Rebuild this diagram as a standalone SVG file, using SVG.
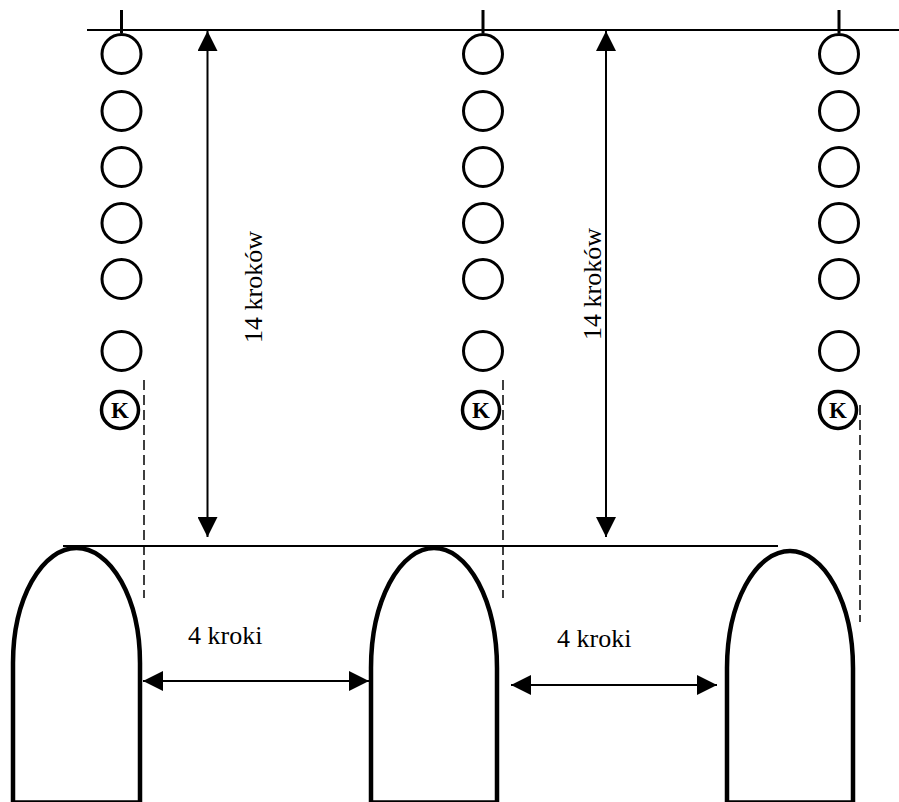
<svg xmlns="http://www.w3.org/2000/svg" width="899" height="802" viewBox="0 0 899 802">
<style>
.ln{stroke:#000;stroke-width:2;fill:none}
.tick{stroke:#000;stroke-width:3}
.c{fill:none;stroke:#000;stroke-width:3}
.k{fill:none;stroke:#000;stroke-width:3.5}
.kt{font-family:'Liberation Serif',serif;font-weight:bold;font-size:23px;text-anchor:middle}
.dash{stroke:#000;stroke-width:1.5;stroke-dasharray:10 5}
.arch{fill:none;stroke:#000;stroke-width:4.5}
.lbl{font-family:'Liberation Serif',serif;font-size:26px}
</style>
<defs>
<marker id="ah" viewBox="0 0 20 20" refX="20" refY="10" markerWidth="20" markerHeight="20" markerUnits="userSpaceOnUse" orient="auto-start-reverse">
<path d="M0,0 L20,10 L0,20 Z" fill="#000"/>
</marker>
</defs>
<g id="baselines">
<line class="ln" x1="87" y1="30" x2="899" y2="30"/>
<line class="ln" x1="63" y1="546" x2="778" y2="546"/>
</g>
<g id="column1">
<line class="tick" x1="121.5" y1="10" x2="121.5" y2="33"/>
<circle class="c" cx="121.5" cy="54" r="19.5"/>
<circle class="c" cx="121.5" cy="111" r="19.5"/>
<circle class="c" cx="121.5" cy="167" r="19.5"/>
<circle class="c" cx="121.5" cy="223" r="19.5"/>
<circle class="c" cx="121.5" cy="279" r="19.5"/>
<circle class="c" cx="121.5" cy="351" r="19.5"/>
<circle class="k" cx="120" cy="410" r="18.5"/>
<text class="kt" x="120" y="418">K</text>
</g>
<g id="column2">
<line class="tick" x1="483" y1="10" x2="483" y2="33"/>
<circle class="c" cx="483" cy="54" r="19.5"/>
<circle class="c" cx="483" cy="111" r="19.5"/>
<circle class="c" cx="483" cy="167" r="19.5"/>
<circle class="c" cx="483" cy="223" r="19.5"/>
<circle class="c" cx="483" cy="279" r="19.5"/>
<circle class="c" cx="483" cy="351" r="19.5"/>
<circle class="k" cx="481" cy="410" r="18.5"/>
<text class="kt" x="481" y="418">K</text>
</g>
<g id="column3">
<line class="tick" x1="839" y1="10" x2="839" y2="33"/>
<circle class="c" cx="839" cy="54" r="19.5"/>
<circle class="c" cx="839" cy="111" r="19.5"/>
<circle class="c" cx="839" cy="167" r="19.5"/>
<circle class="c" cx="839" cy="223" r="19.5"/>
<circle class="c" cx="839" cy="279" r="19.5"/>
<circle class="c" cx="839" cy="351" r="19.5"/>
<circle class="k" cx="838" cy="410" r="18.5"/>
<text class="kt" x="838" y="418">K</text>
</g>
<g id="arch1"><path class="arch" d="M13,802.5 L13,663 A63.5,115 0 0 1 140,663 L140,802.5 Z"/></g>
<g id="arch2"><path class="arch" d="M371,802.5 L371,668 A63,120 0 0 1 497,668 L497,802.5 Z"/></g>
<g id="arch3"><path class="arch" d="M727,802.5 L727,668 A63,117 0 0 1 853,668 L853,802.5 Z"/></g>
<g id="connectors">
<line class="dash" x1="144" y1="380" x2="144" y2="598"/>
<line class="dash" x1="503" y1="380" x2="503" y2="598"/>
<line class="dash" x1="860" y1="405" x2="860" y2="622"/>
<line class="ln" x1="207.5" y1="31" x2="207.5" y2="537" marker-start="url(#ah)" marker-end="url(#ah)"/>
<line class="ln" x1="606" y1="31" x2="606" y2="537" marker-start="url(#ah)" marker-end="url(#ah)"/>
<line class="ln" x1="143" y1="681" x2="369" y2="681" marker-start="url(#ah)" marker-end="url(#ah)"/>
<line class="ln" x1="511" y1="685" x2="717" y2="685" marker-start="url(#ah)" marker-end="url(#ah)"/>
</g>
<g id="labels">
<text class="lbl" transform="translate(262,287) rotate(-90)" text-anchor="middle">14 kroków</text>
<text class="lbl" transform="translate(601,284) rotate(-90)" text-anchor="middle">14 kroków</text>
<text class="lbl" x="188" y="644">4 kroki</text>
<text class="lbl" x="557" y="647">4 kroki</text>
</g>
</svg>
